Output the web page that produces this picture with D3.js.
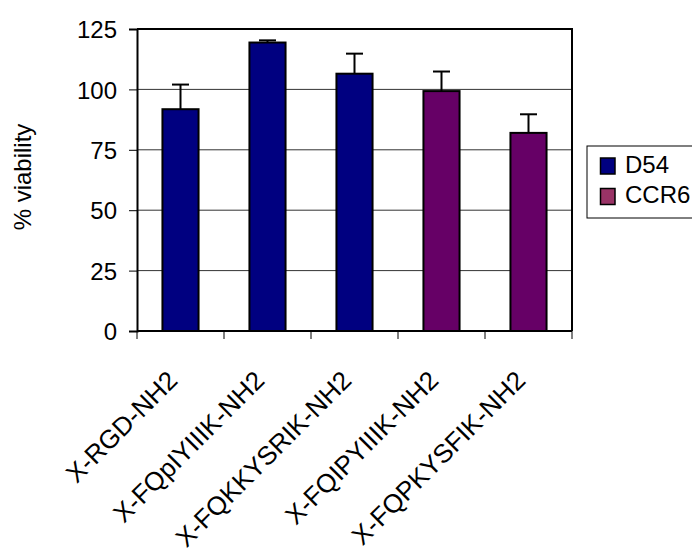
<!DOCTYPE html>
<html>
<head>
<meta charset="utf-8">
<script src="https://cdn.jsdelivr.net/npm/d3@7"></script>
<style>
  html, body { margin: 0; padding: 0; background: #fff; }
  svg { display: block; }
  text { font-family: "Liberation Sans", Arial, sans-serif; fill: #000; }
</style>
</head>
<body>
<svg id="chart" width="692" height="554"></svg>
<script>
// Peptide conjugates and their measured viability
const categories = ["X-RGD-NH2", "X-FQpIYIIIK-NH2", "X-FQKKYSRIK-NH2", "X-FQIPYIIIK-NH2", "X-FQPKYSFIK-NH2"];
const values     = [91.8, 119.4, 106.5, 99.3, 82.0];
const errors     = [10.2, 0.9, 8.3, 8.1, 7.7];
const seriesOf   = ["D54", "D54", "D54", "CCR6", "CCR6"];
const seriesNames = ["D54", "CCR6"];
const yTicks     = [0, 25, 50, 75, 100, 125];
const yLabel     = "% viability";

const barFill    = { "D54": "#000080", "CCR6": "#660066" };
const legendFill = { "D54": "#000080", "CCR6": "#993366" };

const svg = d3.select("#chart");
const plot = { left: 137, right: 572, top: 29, bottom: 331 };

const x = d3.scaleBand().domain(categories).range([plot.left, plot.right]);
const y = d3.scaleLinear().domain([0, 125]).range([plot.bottom, plot.top]);
const barW = x.bandwidth() * 0.415;

// horizontal gridlines
svg.append("g").selectAll("line")
  .data(yTicks.filter(t => t > 0 && t < 125))
  .join("line")
  .attr("x1", plot.left).attr("x2", plot.right)
  .attr("y1", d => y(d)).attr("y2", d => y(d))
  .attr("stroke", "#333").attr("stroke-width", 1);

// plot frame (top and right)
svg.append("path")
  .attr("d", `M${plot.left},${plot.top}H${plot.right}V${plot.bottom}`)
  .attr("fill", "none").attr("stroke", "#000").attr("stroke-width", 2);

// bars
svg.append("g").selectAll("rect")
  .data(categories)
  .join("rect")
  .attr("x", (c) => x(c) + (x.bandwidth() - barW) / 2)
  .attr("width", barW)
  .attr("y", (c, i) => y(values[i]))
  .attr("height", (c, i) => y(0) - y(values[i]))
  .attr("fill", (c, i) => barFill[seriesOf[i]])
  .attr("stroke", "#000").attr("stroke-width", 2);

// error bars (upper only)
const eg = svg.append("g").attr("stroke", "#000").attr("stroke-width", 2);
categories.forEach((c, i) => {
  const cx = x(c) + x.bandwidth() / 2;
  eg.append("line")
    .attr("x1", cx).attr("x2", cx)
    .attr("y1", y(values[i])).attr("y2", y(values[i] + errors[i]));
  eg.append("line")
    .attr("x1", cx - 8.5).attr("x2", cx + 8.5)
    .attr("y1", y(values[i] + errors[i])).attr("y2", y(values[i] + errors[i]));
});

// y axis
const yAxis = d3.axisLeft(y).tickValues(yTicks).tickSize(8).tickPadding(12);
const yg = svg.append("g").attr("transform", `translate(${plot.left},0)`).call(yAxis);
yg.select(".domain").attr("stroke", "#000").attr("stroke-width", 2);
yg.selectAll(".tick line").attr("stroke", "#000").attr("stroke-width", 1);
yg.selectAll(".tick text")
  .style("font-family", '"Liberation Sans", Arial, sans-serif')
  .style("font-size", "24px").attr("fill", "#000").attr("dy", "0.36em");

// x axis: ticks at category boundaries
const xg = svg.append("g");
xg.append("line")
  .attr("x1", plot.left).attr("x2", plot.right)
  .attr("y1", plot.bottom).attr("y2", plot.bottom)
  .attr("stroke", "#000").attr("stroke-width", 2);
const boundaries = categories.map(c => x(c)).concat([plot.right]);
xg.selectAll(".xt").data(boundaries).join("line")
  .attr("class", "xt")
  .attr("x1", d => d).attr("x2", d => d)
  .attr("y1", plot.bottom).attr("y2", plot.bottom + 8)
  .attr("stroke", "#000").attr("stroke-width", 1);

// rotated category labels
xg.selectAll(".xl").data(categories).join("text")
  .attr("class", "xl")
  .attr("text-anchor", "end")
  .attr("transform", c => `translate(${x(c) + x.bandwidth() / 2 - 1.5},382) rotate(-45)`)
  .style("font-size", "26px")
  .text(c => c);

// y title
svg.append("text")
  .attr("text-anchor", "middle")
  .attr("transform", "translate(31,177) rotate(-90)")
  .style("font-size", "24px")
  .text(yLabel);

// legend
const lg = svg.append("g");
lg.append("rect")
  .attr("x", 587).attr("y", 146).attr("width", 115).attr("height", 72)
  .attr("fill", "#fff").attr("stroke", "#000").attr("stroke-width", 1);
seriesNames.forEach((s, i) => {
  lg.append("rect")
    .attr("x", 600.5).attr("y", 158 + i * 30.5)
    .attr("width", 14.5).attr("height", 16)
    .attr("fill", legendFill[s]).attr("stroke", "#000").attr("stroke-width", 1.5);
  lg.append("text")
    .attr("x", 625).attr("y", 172.5 + i * 30.5)
    .style("font-size", "24px")
    .text(s);
});
</script>
</body>
</html>
